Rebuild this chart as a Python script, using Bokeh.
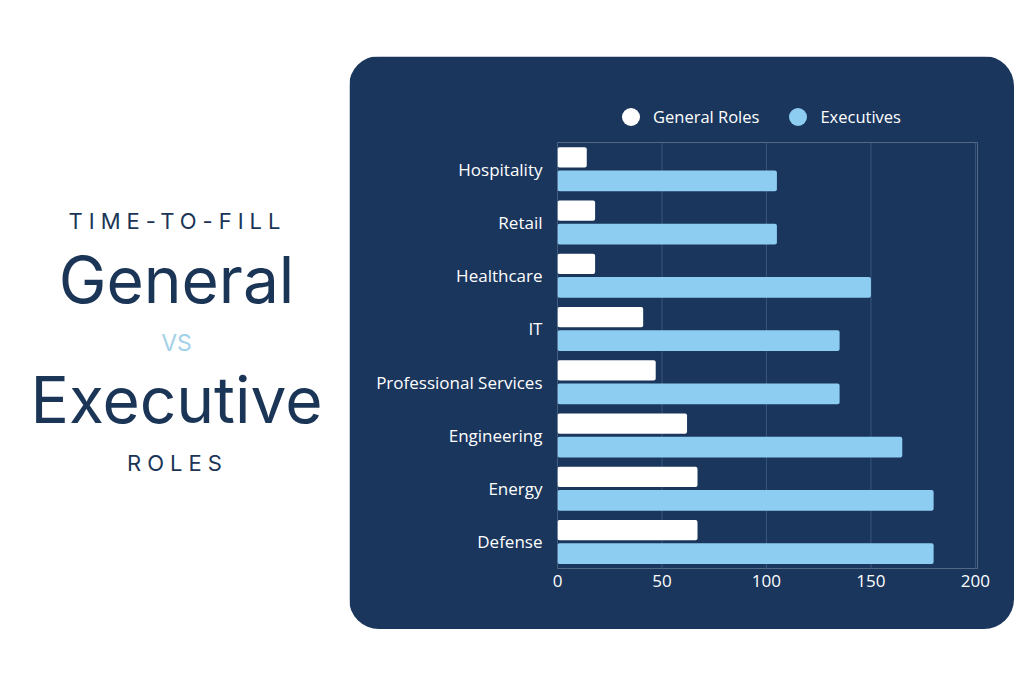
from bokeh.plotting import figure
from bokeh.models import (FactorRange, Range1d, Legend, LegendItem, Label, BoxAnnotation,
                          ColumnDataSource, FixedTicker, HBar)
from bokeh.transform import dodge
from bokeh.embed import file_html
from bokeh.resources import INLINE

categories = ["Hospitality", "Retail", "Healthcare", "IT",
              "Professional Services", "Engineering", "Energy", "Defense"]
general_roles = [14, 18, 18, 41, 47, 62, 67, 67]
executives = [105, 105, 150, 135, 135, 165, 180, 180]
x_ticks = [0, 50, 100, 150, 200]
series_names = ["General Roles", "Executives"]
title_lines = ["TIME-TO-FILL", "General", "VS", "Executive", "ROLES"]

NAVY = "#1a365d"
TITLE_NAVY = "#1b3557"
BLUE = "#8ecdf2"
LIGHT = "#a3d2e8"
GRID = "#36557c"
CHART_FONT = "Open Sans"
TITLE_FONT = "Inter"

src = ColumnDataSource(dict(cat=categories, general=general_roles, execs=executives))
bar_kw = {"border_radius": 2} if "border_radius" in HBar.properties() else {}

# ---- main chart (navy rounded panel) ----
p = figure(width=665, height=573,
           y_range=FactorRange(factors=categories[::-1], range_padding=0),
           x_range=Range1d(0, 201),
           output_backend="svg", toolbar_location=None,
           min_border_left=208, min_border_right=37,
           min_border_top=86, min_border_bottom=61,
           background_fill_color=NAVY, border_fill_color=NAVY,
           outline_line_color=None,
           styles={"position": "absolute", "left": "349px", "top": "56px",
                   "border-radius": "30px", "overflow": "hidden"})
p.outline_line_color = None

# thin vertical guide lines at the tick values (filled, no stroke)
for v in x_ticks:
    p.add_layout(BoxAnnotation(left=v - 0.25, right=v + 0.25, fill_color=GRID,
                               fill_alpha=1, line_color=None, level="underlay"))

p.hbar(y=dodge("cat", 0.22, range=p.y_range), left=0, right="general",
       height=0.38, source=src, fill_color="#ffffff", line_color=None, **bar_kw)
p.hbar(y=dodge("cat", -0.22, range=p.y_range), left=0, right="execs",
       height=0.39, source=src, fill_color=BLUE, line_color=None, **bar_kw)

p.xaxis.ticker = FixedTicker(ticks=x_ticks)
for ax in (p.xaxis[0], p.yaxis[0]):
    ax.axis_line_color = None
    ax.major_tick_line_color = None
    ax.minor_tick_line_color = None
    ax.major_label_text_color = "#ffffff"
    ax.major_label_text_font_size = "17px"
    ax.major_label_text_font = CHART_FONT
p.yaxis.major_label_standoff = 9
p.xaxis.major_label_standoff = 0
p.xgrid.visible = False
p.ygrid.visible = False

# ---- legend strip (on top of the panel) ----
lg = figure(width=320, height=45, output_backend="svg", toolbar_location=None,
            x_range=Range1d(1, 2), y_range=Range1d(1, 2),
            x_axis_type=None, y_axis_type=None, min_border=0,
            outline_line_color=None, background_fill_alpha=0, border_fill_alpha=0,
            styles={"position": "absolute", "left": "608px", "top": "94px"})
lg.grid.visible = False
r1 = lg.scatter(x=[0], y=[0], marker="circle", size=18, fill_color="#ffffff", line_color=None)
r2 = lg.scatter(x=[0], y=[0], marker="circle", size=18, fill_color=BLUE, line_color=None)
legend = Legend(items=[LegendItem(label=series_names[0], renderers=[r1]),
                       LegendItem(label=series_names[1], renderers=[r2])],
                orientation="horizontal", location="top_left",
                glyph_width=45, glyph_height=45, label_standoff=-4,
                spacing=16, padding=0, margin=0,
                background_fill_alpha=0, border_line_color=None,
                label_text_color="#ffffff", label_text_font_size="16.5px",
                label_text_font=CHART_FONT)
lg.add_layout(legend, "center")


# ---- left title block: two overlaid layers ----
def title_layer(spacing, transparent):
    f = figure(width=349, height=629,
               x_range=Range1d(0, 349), y_range=Range1d(629, 0),
               x_axis_type=None, y_axis_type=None,
               output_backend="svg", toolbar_location=None, min_border=0,
               outline_line_color=None,
               background_fill_color="#ffffff", border_fill_color="#ffffff",
               styles={"position": "absolute", "left": "0px", "top": "0px",
                       "letter-spacing": spacing})
    if transparent:
        f.background_fill_alpha = 0
        f.border_fill_alpha = 0
    f.grid.visible = False
    return f


t_big = title_layer("normal", False)
t_small = title_layer("6px", True)

specs = [
    (t_small, title_lines[0], 141, 220, "22px", TITLE_NAVY),
    (t_big, title_lines[1], 176, 279, "64px", TITLE_NAVY),
    (t_big, title_lines[2], 176, 342, "23px", LIGHT),
    (t_big, title_lines[3], 176, 399, "64px", TITLE_NAVY),
    (t_small, title_lines[4], 162, 462, "22px", TITLE_NAVY),
]
for fig, txt, xx, yy, fs, col in specs:
    fig.add_layout(Label(x=xx, y=yy, text=txt,
                         text_align="center", text_baseline="middle",
                         text_font_size=fs, text_color=col, text_font=TITLE_FONT))

open("out.html", "w").write(file_html([t_big, t_small, p, lg], INLINE))
